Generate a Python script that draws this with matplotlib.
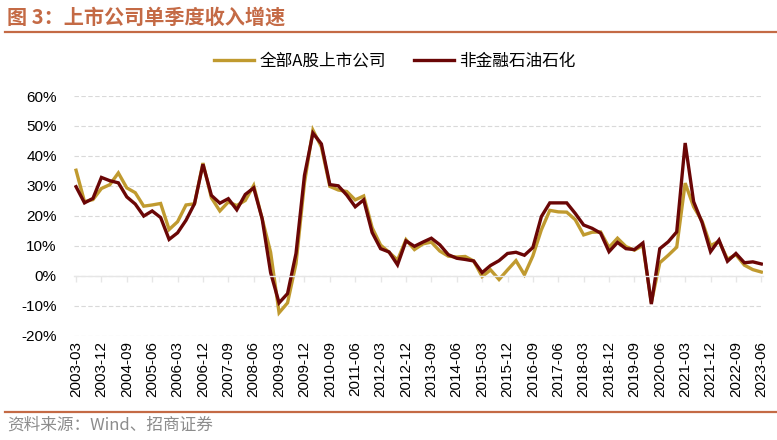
import pandas as pd
import matplotlib
matplotlib.use("Agg")
import matplotlib.pyplot as plt
from matplotlib.ticker import FuncFormatter

# quarterly single-quarter revenue growth, %
quarters = pd.date_range("2003-03-31", periods=82, freq="QE").strftime("%Y-%m").tolist()

all_a = [35.2, 24.7, 25.4, 29.1, 30.4, 34.3, 29.3, 27.7, 23.2, 23.6,
         24.1, 15.4, 18.0, 23.6, 24.0, 37.6, 26.0, 21.6, 24.6, 23.4,
         25.1, 30.1, 19.0, 7.8, -12.4, -9.1, 4.0, 31.0, 48.6, 43.0,
         29.8, 28.6, 28.1, 25.3, 26.6, 16.0, 10.2, 7.8, 5.2, 12.0,
         8.7, 10.6, 11.2, 8.2, 6.5, 6.2, 6.4, 4.9, -0.3, 1.9,
         -1.3, 1.9, 5.0, 0.3, 6.6, 15.3, 21.8, 21.3, 21.2, 18.7,
         13.6, 14.5, 14.6, 9.4, 12.5, 9.7, 8.5, 10.1, -9.0, 4.3,
         6.8, 9.5, 30.9, 23.0, 18.2, 10.0, 11.5, 5.5, 7.0, 3.5,
         2.0, 1.2]

non_fin = [29.7, 24.3, 25.8, 32.8, 31.7, 31.0, 26.3, 23.9, 19.9, 21.6,
           19.4, 12.1, 14.3, 18.5, 24.0, 37.2, 26.8, 24.2, 25.7, 22.0,
           27.1, 29.3, 19.0, 1.0, -9.1, -6.0, 7.4, 33.5, 47.6, 44.0,
           30.4, 30.0, 26.9, 23.0, 25.3, 14.4, 9.0, 7.9, 3.6, 11.6,
           9.8, 11.2, 12.5, 10.3, 7.0, 5.8, 5.4, 4.9, 1.0, 3.4,
           5.0, 7.4, 7.8, 6.8, 9.4, 19.7, 24.3, 24.3, 24.3, 20.8,
           16.9, 15.8, 14.2, 8.0, 11.1, 9.0, 8.7, 10.9, -9.5, 9.0,
           11.3, 14.6, 44.3, 24.7, 17.7, 8.0, 11.9, 4.8, 7.4, 4.3,
           4.6, 3.9]

series_names = ["全部A股上市公司", "非金融石油石化"]
colors = ["#C09A2F", "#6A0606"]

cjk = ["Noto Sans CJK SC", "DejaVu Sans"]
accent = "#C46A45"

fig = plt.figure(figsize=(7.77, 4.4), dpi=100)
ax = fig.add_axes([73.5 / 777, 1 - 335.5 / 440, (763 - 73.5) / 777, (335.5 - 96) / 440])

x = list(range(len(quarters)))
ax.plot(x, all_a, color=colors[0], lw=2.4, label=series_names[0], solid_joinstyle="miter")
ax.plot(x, non_fin, color=colors[1], lw=2.4, label=series_names[1], solid_joinstyle="miter")

ax.set_xlim(-0.3, 81.2)
ax.set_ylim(-20, 60)
ax.set_yticks(range(-20, 61, 10))
ax.yaxis.set_major_formatter(FuncFormatter(lambda v, p: f"{v:.0f}%"))
ax.yaxis.grid(True, color="#D9D9D9", linestyle=(0, (4, 2.2)), linewidth=0.8)
ax.set_axisbelow(True)
ax.tick_params(axis="y", length=0, pad=12, labelsize=11)
for lab in ax.get_yticklabels():
    lab.set_fontfamily("Liberation Sans")

for s in ["top", "right", "left"]:
    ax.spines[s].set_visible(False)
# zero line with tick marks, labels kept at the bottom
ax.spines["bottom"].set_position(("data", 0))
ax.spines["bottom"].set_color("#E6E6E6")
ax.spines["bottom"].set_linewidth(1.0)
tick_pos = x[::3]
ax.set_xticks(tick_pos)
ax.tick_params(axis="x", length=4, color="#E6E6E6", width=1.0, labelbottom=False)

sec = ax.secondary_xaxis(0.0)
sec.set_xticks(tick_pos)
sec.set_xticklabels(quarters[::3], rotation=90, fontsize=11, family="Liberation Sans")
sec.tick_params(length=0, pad=4)
sec.spines["bottom"].set_visible(False)

ax.legend(ncol=2, loc="center", bbox_to_anchor=(395 / 777, 1 - 61 / 440),
          bbox_transform=fig.transFigure, frameon=False, handlelength=2.4,
          handletextpad=0.3, columnspacing=1.7, prop={"family": cjk, "size": 12})

fig.text(7 / 777, 1 - 17 / 440, "图 3：上市公司单季度收入增速", color=accent,
         fontsize=14.5, fontweight="bold", family=cjk, va="center", ha="left")
fig.add_artist(plt.Line2D([5 / 777, 1], [1 - 32.5 / 440] * 2, color=accent, lw=1.6,
                          transform=fig.transFigure))
fig.add_artist(plt.Line2D([5 / 777, 1], [1 - 412 / 440] * 2, color=accent, lw=1.6,
                          transform=fig.transFigure))
fig.text(7 / 777, 1 - 425.5 / 440, "资料来源：Wind、招商证券", color="#8C8C8C",
         fontsize=12, family=cjk, va="center", ha="left")

fig.savefig("out.png", dpi=100)
